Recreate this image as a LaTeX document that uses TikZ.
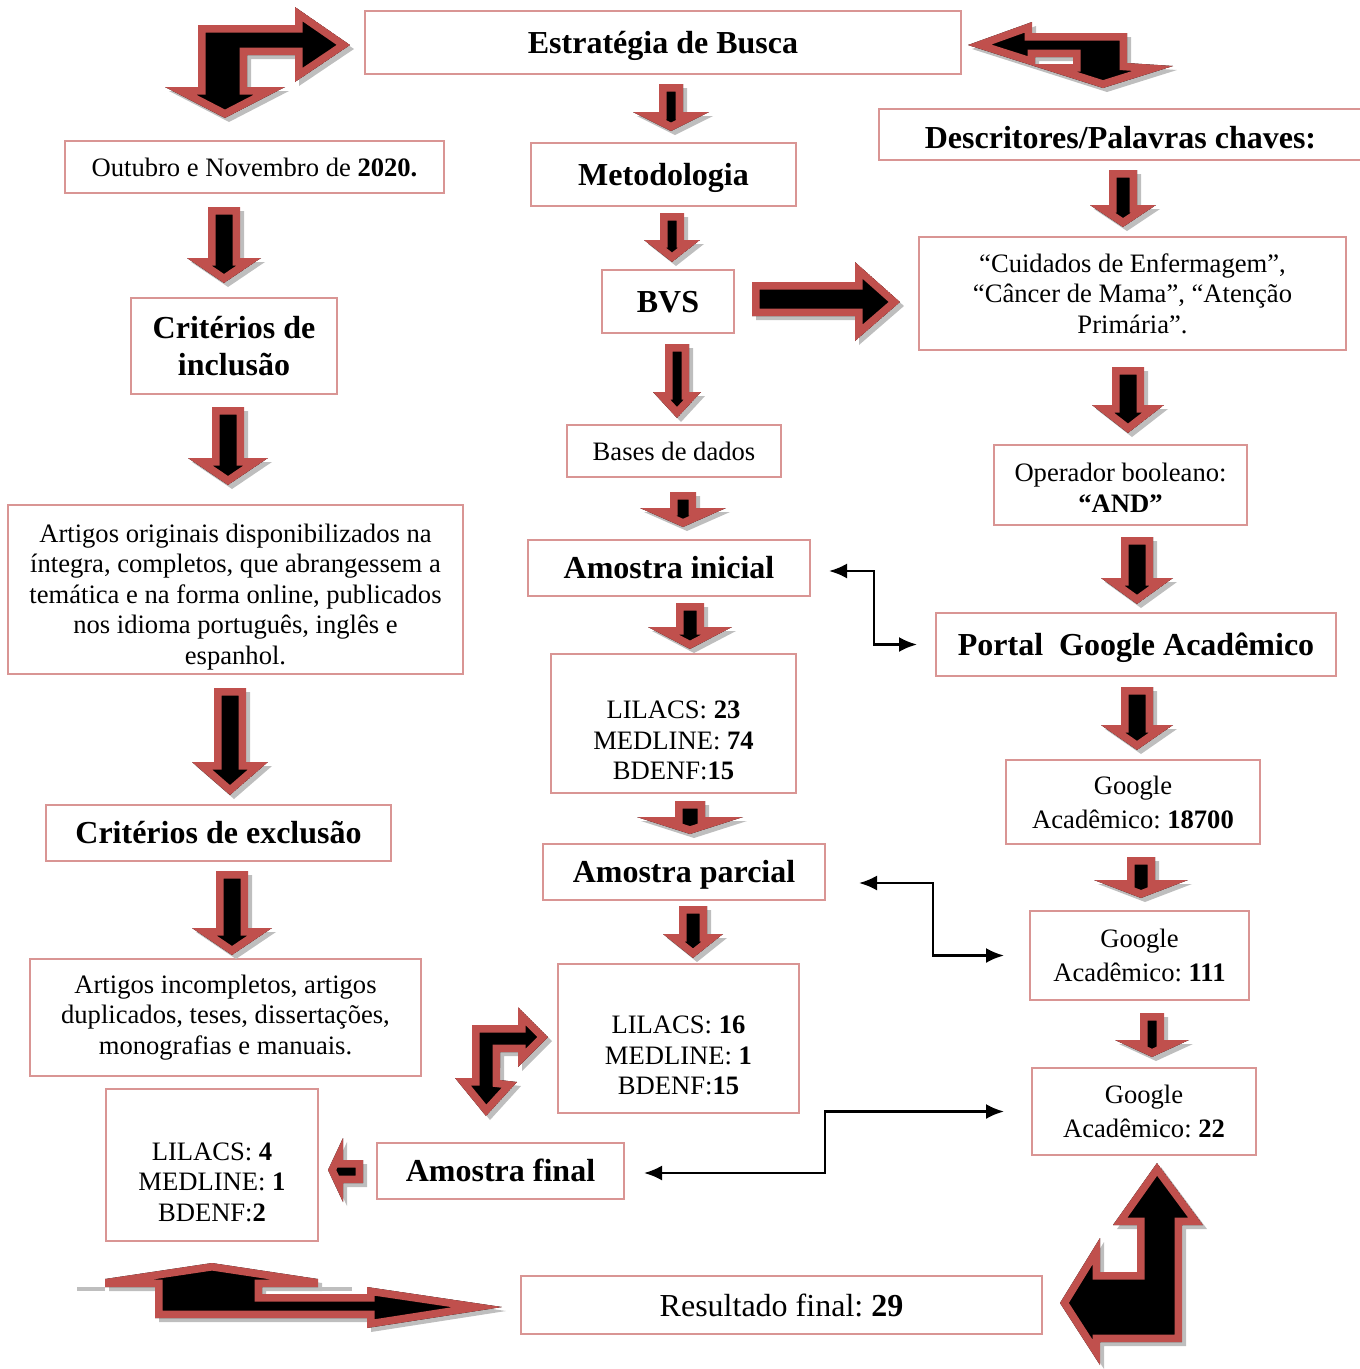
\documentclass[tikz,border=0pt]{standalone}
\usepackage{fontspec}
\setmainfont{Liberation Serif}
\usepackage{tikz}
\usetikzlibrary{arrows.meta}

\definecolor{boxred}{RGB}{217,149,148}
\definecolor{arrred}{RGB}{192,80,77}
\definecolor{arrshade}{RGB}{190,190,190}

\newcommand{\blockarrow}[1]{%
  \fill[arrshade, even odd rule, shift={(4,4)}] #1;
  \begin{scope}[even odd rule]
    \clip #1;
    \fill[black] #1;
    \draw[arrred, line width=15pt, line join=miter] #1;
  \end{scope}}
\newcommand{\dnblk}[6]{%
  \blockarrow{({#1-#5},#2) -- ({#1+#5},#2) -- ({#1+#5},#3) -- ({#1+#6},#3)
    -- (#1,#4) -- ({#1-#6},#3) -- ({#1-#5},#3) -- cycle}}

\tikzset{
  box/.style={draw=boxred, line width=2pt, align=center, inner sep=0pt},
  txt/.style={font=\fontsize{26.6}{30.5}\selectfont},
  gtxt/.style={font=\fontsize{26.6}{34}\selectfont},
  bigtxt/.style={font=\fontsize{32}{37}\selectfont},
  head/.style={font=\fontsize{32}{37}\selectfont\bfseries},
  head1/.style={head, text height=26pt, text depth=5pt},
  link/.style={line width=2.5pt, {Latex[length=18pt,width=15pt]}-{Latex[length=18pt,width=15pt]}}
}

\begin{document}
\frenchspacing
\begin{tikzpicture}[x=1pt,y=-1pt]
\useasboundingbox (0,0) rectangle (1360,1369);

\node[box, head1, minimum width=596, minimum height=63] (est) at (663,42.5) {Estratégia de Busca};
\node[box, txt, minimum width=379, minimum height=52] (outu) at (254.5,167) {Outubro e Novembro de \textbf{2020.}};
\node[box, head1, minimum width=265, minimum height=63] (meto) at (663.5,174.5) {Metodologia};
\node[box, head1, text height=33pt, minimum width=483, minimum height=51] (desc) at (1120.5,134.5) {Descritores/Palavras chaves:};
\node[box, head, minimum width=206, minimum height=96] (crin) at (234,346) {Critérios de\\inclusão};
\node[box, head1, minimum width=132, minimum height=63] (bvs) at (668,301.5) {BVS};
\node[box, txt, minimum width=427, minimum height=113] (cuid) at (1132.5,293.5) {“Cuidados de Enfermagem”,\\“Câncer de Mama”, “Atenção\\Primária”.};
\node[box, txt, minimum width=214, minimum height=52] (base) at (674,451) {Bases de dados};
\node[box, txt, minimum width=253, minimum height=80] (oper) at (1120.5,485) {\rule{0pt}{24pt}Operador booleano:\\\textbf{“AND”}};
\node[box, txt, minimum width=455, minimum height=169] (art) at (235.5,589.5) {\rule{0pt}{33pt}Artigos originais disponibilizados na\\íntegra, completos, que abrangessem a\\temática e na forma online, publicados\\nos idioma português, inglês e\\espanhol.};
\node[box, head1, minimum width=282, minimum height=56] (aini) at (669,568) {Amostra inicial};
\node[box, head1, minimum width=400, minimum height=63] (port) at (1136,644.5) {Portal\ \ Google Acadêmico};
\node[box, txt, minimum width=245, minimum height=139] (lil1) at (673.5,723.5) {\strut\\LILACS: \textbf{23}\\MEDLINE: \textbf{74}\\BDENF:\textbf{15}};
\node[box, gtxt, minimum width=254, minimum height=84] (goo1) at (1133,802) {Google\\Acadêmico: \textbf{18700}};
\node[box, head1, minimum width=345, minimum height=56] (crex) at (218.5,833) {Critérios de exclusão};
\node[box, head1, minimum width=282, minimum height=56] (apar) at (684,872) {Amostra parcial};
\node[box, gtxt, minimum width=219, minimum height=89] (goo2) at (1139.5,955.5) {Google\\Acadêmico: \textbf{111}};
\node[box, txt, minimum width=391, minimum height=117] (inco) at (225.5,1017.5) {Artigos incompletos, artigos\\duplicados, teses, dissertações,\\monografias e manuais.};
\node[box, txt, minimum width=241, minimum height=149] (lil2) at (678.5,1038.5) {\strut\\LILACS: \textbf{16}\\MEDLINE: \textbf{1}\\BDENF:\textbf{15}};
\node[box, gtxt, minimum width=224, minimum height=87] (goo3) at (1144,1111.5) {Google\\Acadêmico: \textbf{22}};
\node[box, txt, minimum width=212, minimum height=152] (lil3) at (212,1165) {\strut\\LILACS: \textbf{4}\\MEDLINE: \textbf{1}\\BDENF:\textbf{2}};
\node[box, head1, minimum width=247, minimum height=56] (afin) at (500.5,1171) {Amostra final};
\node[box, bigtxt, minimum width=521, minimum height=58] (res) at (781.5,1305) {Resultado final: \textbf{29}};

\draw[link] ([xshift=18pt,yshift=-3pt]aini.east) -- ++(45,0) |- ([xshift=-18pt]port.west);
\draw[link] ([xshift=33pt,yshift=-11pt]apar.east) -- ++(74,0) |- ([xshift=-25pt]goo2.west);
\draw[link] ([xshift=19pt,yshift=-2pt]afin.east) -- ++(181,0) |- ([xshift=-27pt]goo3.west);

\dnblk{671}{84}{112}{131}{12}{38}
\dnblk{672}{213}{240}{262}{12}{28}
\dnblk{677}{344}{392}{418}{12}{24}
\dnblk{683}{492}{508}{527}{13}{43}
\dnblk{690}{603}{627}{649}{14}{42}
\dnblk{690}{801}{817}{834}{15}{53}
\dnblk{693}{906}{934}{958}{14}{30}
\dnblk{224}{207}{258}{283}{16}{37}
\dnblk{228}{407}{458}{485}{16}{40}
\dnblk{230}{688}{762}{795}{16}{38}
\dnblk{232}{871}{928}{955}{16}{40}
\dnblk{1123}{170}{205}{227}{14}{33}
\dnblk{1128}{367}{405}{433}{16}{36}
\dnblk{1137}{537}{578}{604}{16}{36}
\dnblk{1137}{687}{725}{750}{16}{36}
\dnblk{1141}{857}{880}{898}{14}{47}
\dnblk{1152}{1013}{1040}{1057}{12}{37}

\blockarrow{(752,282) -- (855,282) -- (855,262) -- (900,302) -- (855,341) -- (855,316) -- (752,316) -- cycle}
\blockarrow{(363,1160) -- (343,1160) -- (343,1138) -- (328,1170) -- (343,1202) -- (343,1183) -- (363,1183) -- cycle}
\blockarrow{(198,25) -- (295,25) -- (295,7) -- (350,45) -- (295,82) -- (295,55) -- (247,55) -- (247,87) -- (285,87) -- (225,118) -- (165,87) -- (198,87) -- cycle}
\blockarrow{(968,45) -- (1032,22) -- (1032,33) -- (1127,33) -- (1127,63) -- (1173,66) -- (1103,88) -- cycle (1035,57) rectangle (1073,64)}
\blockarrow{(472,1025) -- (518,1025) -- (518,1007) -- (548,1037) -- (518,1067) -- (518,1052) -- (500,1052) -- (500,1080) -- (517,1082) -- (486,1116) -- (455,1078) -- (472,1078) -- cycle}
\fill[arrshade] (77,1287) rectangle (105,1291);
\fill[arrshade] (318,1287) rectangle (352,1291);
\blockarrow{(212,1263) -- (318,1279) -- (318,1287) -- (262,1287) -- (262,1294) -- (367,1294) -- (367,1287) -- (502,1307) -- (367,1328) -- (367,1318) -- (155,1318) -- (155,1287) -- (105,1287) -- (105,1279) -- cycle}
\blockarrow{(1157,1163) -- (1203,1225) -- (1182,1225) -- (1182,1342) -- (1100,1342) -- (1100,1365) -- (1060,1303) -- (1100,1238) -- (1100,1272) -- (1137,1272) -- (1137,1225) -- (1113,1225) -- cycle}
\end{tikzpicture}
\end{document}
